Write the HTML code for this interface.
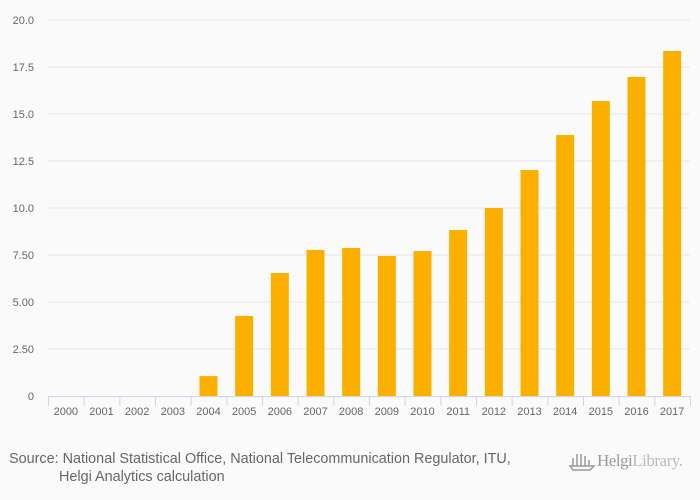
<!DOCTYPE html>
<html><head><meta charset="utf-8"><style>
body{margin:0;background:#fafafa;font-family:"Liberation Sans",sans-serif;}
svg{display:block}
</style></head><body>
<svg width="700" height="500" id="c">
<rect width="700" height="500" fill="#fafafa"/>
<g id="grid"></g>
<g id="bars"></g>
<g id="xaxis"></g>
<g id="yaxis"></g>
<text x="9" y="463" font-size="14.4" fill="#666">Source: National Statistical Office, National Telecommunication Regulator, ITU,</text>
<text x="59" y="481" font-size="14.4" fill="#666">Helgi Analytics calculation</text>
<g>
<g stroke="#999" stroke-width="1.5" fill="none"><line x1="573" y1="458" x2="573" y2="466"/><line x1="577" y1="454" x2="577" y2="466"/><line x1="581" y1="454" x2="581" y2="466"/><line x1="585" y1="456" x2="585" y2="466"/><line x1="589" y1="460" x2="589" y2="466"/><path d="M570 466 L594 466 L590 470 L573 470 Z"/></g>
<text x="597" y="466" font-size="17" fill="#999" font-family="Liberation Serif,serif" letter-spacing="-0.5">Helgi<tspan fill="#bbb">Library.</tspan></text>
</g>
</svg>
<script>
const categories=["2000","2001","2002","2003","2004","2005","2006","2007","2008","2009","2010","2011","2012","2013","2014","2015","2016","2017"];
const values=[0,0,0,0,1.06,4.26,6.54,7.77,7.87,7.45,7.71,8.83,10.0,12.02,13.88,15.69,16.97,18.35];
const yTicks=[0,2.5,5,7.5,10,12.5,15,17.5,20];
const yTickLabels=["0","2.50","5.00","7.50","10.0","12.5","15.0","17.5","20.0"];
const NS="http://www.w3.org/2000/svg";
const L=48,R=690,T=20,B=396,yMax=20;
const step=(R-L)/categories.length;
const y=v=>B-(v/yMax)*(B-T);
const x=i=>L+step*i;
function mk(tag,attrs,parent){const e=document.createElementNS(NS,tag);for(const k in attrs)e.setAttribute(k,attrs[k]);parent.appendChild(e);return e;}
const grid=document.getElementById('grid'),bars=document.getElementById('bars'),xa=document.getElementById('xaxis'),ya=document.getElementById('yaxis');
yTicks.forEach((t,i)=>{
 if(t>0){const g=mk('line',{x1:L,x2:R,y1:y(t),y2:y(t),stroke:'#e6e6e6','stroke-width':1},grid);
 
 }
 const tx=mk('text',{x:34,y:y(t)+4,'font-size':11,fill:'#666','text-anchor':'end'},ya);
 tx.textContent=yTickLabels[i];
 
 
});
values.forEach((v,i)=>{
 if(v<=0)return;
 const r=mk('rect',{x:x(i)+step/2-9,y:y(v),width:18,height:B-y(v),fill:'#fbb000'},bars);
 
 
});
const ax=mk('line',{x1:L,x2:R,y1:B+0.5,y2:B+0.5,stroke:'#ccd6eb','stroke-width':1},xa);


for(let i=0;i<=categories.length;i++){
 const tk=mk('line',{x1:x(i)+0.5,x2:x(i)+0.5,y1:B,y2:B+10,stroke:'#ccd6eb','stroke-width':1},xa);
 
 
}
categories.forEach((c,i)=>{
 const t=mk('text',{x:x(i)+step/2,y:415,'font-size':11,fill:'#666','text-anchor':'middle'},xa);
 t.textContent=c;
 
 
});
</script>
</body></html>
